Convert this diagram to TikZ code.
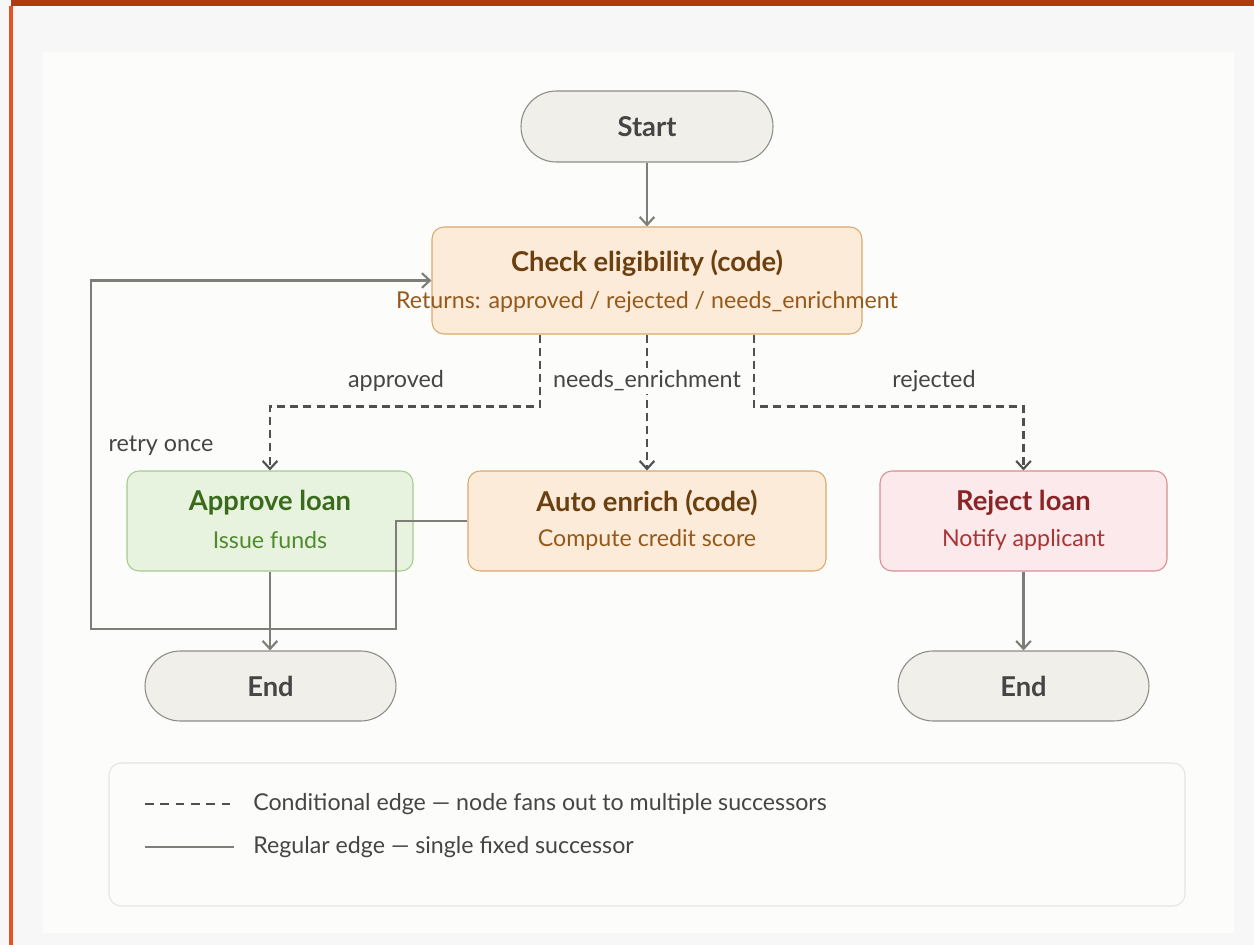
\documentclass[tikz,border=0pt]{standalone}
\usepackage{fontspec}
\setmainfont{Lato}
\usetikzlibrary{arrows.meta,calc}

\definecolor{topbar}{HTML}{B13A14}
\definecolor{sidebar}{HTML}{E05522}
\definecolor{pagebg}{HTML}{F7F7F7}
\definecolor{panelbg}{HTML}{FCFCFA}
\definecolor{pillfill}{HTML}{F1EFE9}
\definecolor{pillline}{HTML}{8C8C87}
\definecolor{orfill}{HTML}{FCEBD8}
\definecolor{orline}{HTML}{D9A86C}
\definecolor{ortitle}{HTML}{6B3F0F}
\definecolor{orsub}{HTML}{95591C}
\definecolor{grfill}{HTML}{E7F3DF}
\definecolor{grline}{HTML}{A3CB8E}
\definecolor{grtitle}{HTML}{3A6B1C}
\definecolor{grsub}{HTML}{4F8B2D}
\definecolor{rdfill}{HTML}{FCE9EB}
\definecolor{rdline}{HTML}{DC8C91}
\definecolor{rdtitle}{HTML}{8A2525}
\definecolor{rdsub}{HTML}{A83434}
\definecolor{edgegray}{HTML}{7E7E79}
\definecolor{dashgray}{HTML}{505050}
\definecolor{labelgray}{HTML}{454545}
\definecolor{legendline}{HTML}{E4E4E0}

\newcommand{\titlefont}{\fontsize{20.5pt}{24pt}\selectfont\bfseries}
\newcommand{\subfont}{\fontsize{17.4pt}{21pt}\selectfont}
\newcommand{\edgefont}{\fontsize{17.5pt}{21pt}\selectfont}
\newcommand{\legendfont}{\fontsize{17.4pt}{21pt}\selectfont}

\tikzset{
  pill/.style={draw=pillline, fill=pillfill, line width=0.8pt, rounded corners=26.5pt,
    minimum width=252*0.75pt, minimum height=71*0.75pt, inner sep=0pt,
    text=labelgray, font=\titlefont},
  box/.style={rounded corners=9pt, line width=0.8pt, inner sep=0pt,
    minimum height=100*0.75pt},
  orbox/.style={box, draw=orline, fill=orfill},
  grbox/.style={box, draw=grline, fill=grfill},
  rdbox/.style={box, draw=rdline, fill=rdfill},
  txt/.style={inner sep=0pt},
  edge/.style={draw=edgegray, line width=2pt,
    -{Straight Barb[length=6pt,width=11pt,line width=1.6pt]}},
  plainedge/.style={draw=edgegray, line width=2pt},
  cond/.style={draw=dashgray, line width=1.8pt, dash pattern=on 6pt off 3.8pt,
    -{Straight Barb[length=6pt,width=11pt,line width=1.6pt]}},
  condplain/.style={draw=dashgray, line width=1.8pt, dash pattern=on 6.5pt off 5pt},
  elabel/.style={inner sep=2pt, text=labelgray, font=\edgefont},
}

\begin{document}
\begin{tikzpicture}[x=0.75pt, y=-0.75pt]
  % page frame
  \useasboundingbox (0,0) rectangle (1254,945);
  \fill[pagebg] (0,0) rectangle (1254,945);
  \fill[topbar] (11,0) rectangle (1254,6);
  \fill[sidebar] (9,6) rectangle (13,945);
  \fill[panelbg] (43,52) rectangle (1234,933);

  % nodes
  \node[pill] (start) at (647,126.5) {Start};
  \node[orbox, minimum width=430*0.75pt, minimum height=107*0.75pt] (check) at (647,280.5) {};
  \node[txt, text=ortitle, font=\titlefont] (checkT) at (647,263) {Check eligibility (code)};
  \node[txt, text=orsub, font=\subfont] (checkS) at (647,302) {Returns: approved / rejected / needs\_enrichment};

  \node[grbox, minimum width=286*0.75pt] (approve) at (270,521) {};
  \node[txt, text=grtitle, font=\titlefont] (approveT) at (270,503) {Approve loan};
  \node[txt, text=grsub, font=\subfont] (approveS) at (270,540) {Issue funds};

  \node[orbox, minimum width=358*0.75pt] (enrich) at (647,521) {};
  \node[txt, text=ortitle, font=\titlefont] (enrichT) at (647,503) {Auto enrich (code)};
  \node[txt, text=orsub, font=\subfont] (enrichS) at (647,540) {Compute credit score};

  \node[rdbox, minimum width=287*0.75pt] (reject) at (1023.5,521) {};
  \node[txt, text=rdtitle, font=\titlefont] (rejectT) at (1023.5,503) {Reject loan};
  \node[txt, text=rdsub, font=\subfont] (rejectS) at (1023.5,540) {Notify applicant};

  \node[pill, minimum width=251*0.75pt, minimum height=70*0.75pt] (endL) at (270.5,686) {End};
  \node[pill, minimum width=251*0.75pt, minimum height=70*0.75pt] (endR) at (1023.5,686) {End};

  % regular edges
  \draw[edge] (start) -- (check);
  \draw[edge] (approve) -- (approve |- endL.north);
  \draw[edge] (reject) -- (reject |- endR.north);
  \draw[edge] (enrich.west) -- (396,521) -- (396,629) -- (91,629) |- (check.west);

  % conditional edges
  \draw[cond] ($(check.south)+(-107,0)$) -- ++(0,72) -| (approve.north);
  \draw[cond] (check.south) -- (enrich.north);
  \draw[cond] ($(check.south)+(107,0)$) -- ++(0,72) -| (reject.north);

  % edge labels
  \node[elabel] (lapproved) at (396,381) {approved};
  \node[elabel, fill=panelbg] (lneeds) at (647,381) {needs\_enrichment};
  \node[elabel] (lrejected) at (934,381) {rejected};
  \node[elabel] (lretry) at (161,446) {retry once};

  % legend
  \node[draw=legendline, fill=panelbg, line width=0.8pt, rounded corners=9pt,
    minimum width=1076*0.75pt, minimum height=143*0.75pt] (legend) at (647,834.5) {};
  \coordinate (dashA) at (145,804);
  \coordinate (dashB) at (236,804);
  \coordinate (solidA) at (145,847);
  \coordinate (solidB) at (234,847);
  \draw[condplain] (dashA) -- (dashB);
  \draw[plainedge] (solidA) -- (solidB);
  \node[txt, anchor=west, text=labelgray, font=\legendfont] (legcond) at (253,804)
    {Conditional edge — node fans out to multiple successors};
  \node[txt, anchor=west, text=labelgray, font=\legendfont] (legreg) at (253,847)
    {Regular edge — single fixed successor};
\end{tikzpicture}
\end{document}
